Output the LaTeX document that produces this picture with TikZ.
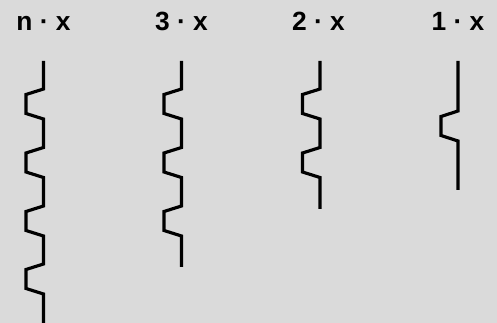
\documentclass[tikz,border=0pt]{standalone}
\usepackage{fontspec}
\setmainfont{Liberation Sans}
\usepackage{tikz}
\usetikzlibrary{positioning}
\definecolor{panel}{HTML}{DADADA}

\begin{document}
\begin{tikzpicture}[
  x=0.02cm, y=-0.02cm,
  lbl/.style={font=\fontsize{15}{17}\selectfont\bfseries, anchor=base, inner sep=0pt},
  zz/.style={line width=1.8pt, line join=miter, black}
]
  \fill[panel] (0,0) rectangle (497,323);
  \useasboundingbox (0,0) rectangle (497,323);
  % labels
  \node[lbl] (lbln) at (43.5,30.5)  {n · x};
  \node[lbl] (lbl3) at (181.5,30.5) {3 · x};
  \node[lbl] (lbl2) at (318.5,30.5) {2 · x};
  \node[lbl] (lbl1) at (458,30.5)   {1 · x};
  % zigzags
  \draw[zz] (43.5,61) \foreach \y in {89,147.5,206,264} {
      -- (43.5,\y) -- (26,\y+5.5) -- (26,\y+24.5) -- (43.5,\y+30)} -- (43.5,323);
  \draw[zz] (181.5,61) \foreach \y in {89,147.5,206} {
      -- (181.5,\y) -- (164,\y+5.5) -- (164,\y+24.5) -- (181.5,\y+30)} -- (181.5,267);
  \draw[zz] (320,61) \foreach \y in {89,147.5} {
      -- (320,\y) -- (302.5,\y+5.5) -- (302.5,\y+24.5) -- (320,\y+30)} -- (320,209);
  \draw[zz] (458,61) -- (458,111) -- (441,116.5) -- (441,135.5) -- (458,141) -- (458,190);
\end{tikzpicture}
\end{document}
